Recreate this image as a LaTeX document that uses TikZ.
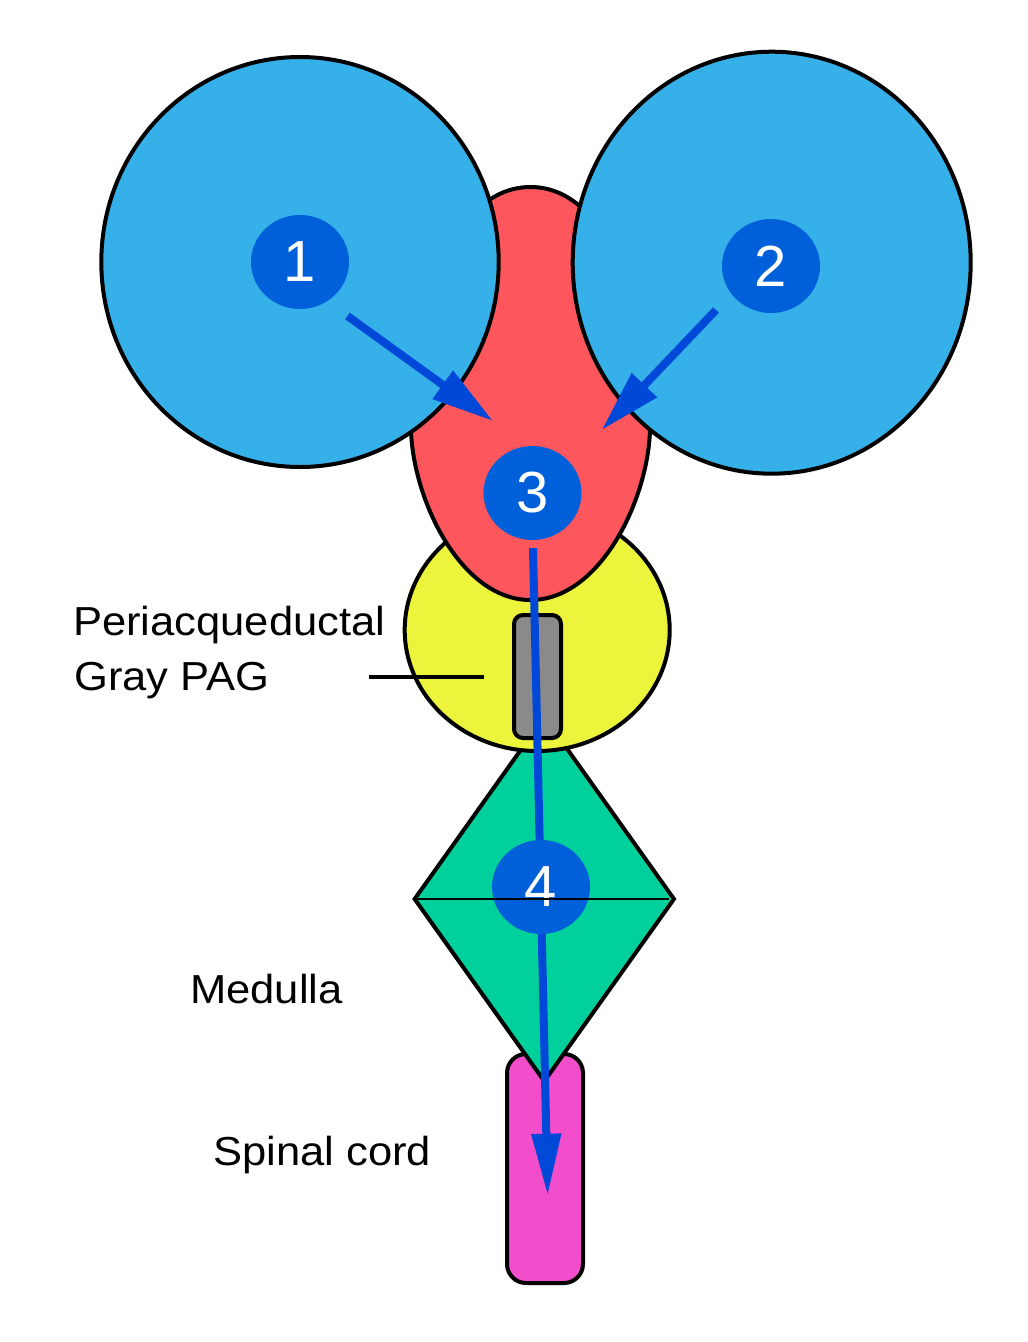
\documentclass[tikz,border=0pt]{standalone}
\usepackage{fontspec}
\setmainfont{Liberation Sans}[FakeStretch=1.075]
\newfontfamily\digitfont{Liberation Sans}
\usetikzlibrary{shapes.geometric,arrows.meta}
\definecolor{lobeblue}{RGB}{53,176,233}
\definecolor{badgeblue}{RGB}{0,96,218}
\definecolor{arrowblue}{RGB}{0,72,216}
\definecolor{redfill}{RGB}{253,86,92}
\definecolor{yellowfill}{RGB}{236,245,60}
\definecolor{greenfill}{RGB}{0,208,155}
\definecolor{grayfill}{RGB}{138,138,138}
\definecolor{pinkfill}{RGB}{242,77,202}
\begin{document}
\begin{tikzpicture}[x=1pt,y=-1pt,
  outl/.style={draw=black,line width=4pt},
  lobe/.style={ellipse,outl,fill=lobeblue,inner sep=0pt},
  badge/.style={ellipse,fill=badgeblue,text=white,inner sep=0pt,
    minimum width=98pt,minimum height=94pt,
    font=\digitfont\fontsize{58}{58}\selectfont},
  flow/.style={draw=arrowblue,line width=8pt},
  lbl/.style={anchor=base west,inner sep=0pt,font=\fontsize{40.5}{54}\selectfont}]
\useasboundingbox (0,0) rectangle (1028,1342);

% spinal cord
\node[rectangle,rounded corners=19pt,outl,fill=pinkfill,inner sep=0pt,
  minimum width=76pt,minimum height=229pt] (cord) at (545,1168.5) {};
% medulla
\node[diamond,outl,fill=greenfill,inner sep=0pt,
  minimum width=261pt,minimum height=366pt] (medulla) at (544.3,899) {};
% midbrain (yellow)
\node[ellipse,outl,fill=yellowfill,inner sep=0pt,
  minimum width=265pt,minimum height=242pt] (mid) at (537.2,630) {};
% red egg
\draw[outl,fill=redfill] (530.5,600)
  .. controls (600,600) and (648,500) .. (650,430)
  .. controls (652,330) and (615,187) .. (530.5,187)
  .. controls (446,187) and (409,330) .. (411,430)
  .. controls (413,500) and (461,600) .. (530.5,600) -- cycle;
% aqueduct (gray)
\node[rectangle,rounded corners=9pt,outl,fill=grayfill,inner sep=0pt,
  minimum width=47pt,minimum height=123pt] (aq) at (537.5,676.5) {};
% hemispheres
\node[lobe,minimum width=397.4pt,minimum height=410pt] (lh) at (300,262) {};
\node[lobe,minimum width=398pt,minimum height=422pt] (rh) at (771.7,262.7) {};

% arrow end points
\coordinate (a1s) at (347.5,316);
\coordinate (a1e) at (493,421);
\coordinate (a2s) at (716,310);
\coordinate (a2e) at (601.7,430);
\coordinate (a3s) at (533,548);
\coordinate (a3e) at (547.7,1195.7);

\draw[flow,-{Triangle[length=62pt,width=33pt]}] (a1s) -- (a1e);
\draw[flow,-{Triangle[length=62pt,width=33pt]}] (a2s) -- (a2e);
\draw[flow,-{Triangle[length=62pt,width=28pt]}] (a3s) -- (a3e);

% badges
\node[badge] (b1) at (300,262) {1};
\node[badge] (b2) at (771,266) {2};
\node[badge] (b3) at (532.5,493) {3};
\node[badge] (b4) at (541,887) {4};

% thin line across medulla
\draw[line width=1.5pt,shorten <=3pt,shorten >=7.6pt] (medulla.west) -- (medulla.east);

% labels
\node[lbl] (pag1) at (73,635.7) {Periacqueductal};
\node[lbl] (pag2) at (74,690) {Gray PAG};
\node[lbl] (med) at (190,1003.3) {Medulla};
\node[lbl] (sc) at (213,1165) {Spinal cord};

\coordinate (pagL) at (369,677);
\coordinate (pagR) at (484,677);
\draw[line width=4pt] (pagL) -- (pagR);
\end{tikzpicture}
\end{document}
